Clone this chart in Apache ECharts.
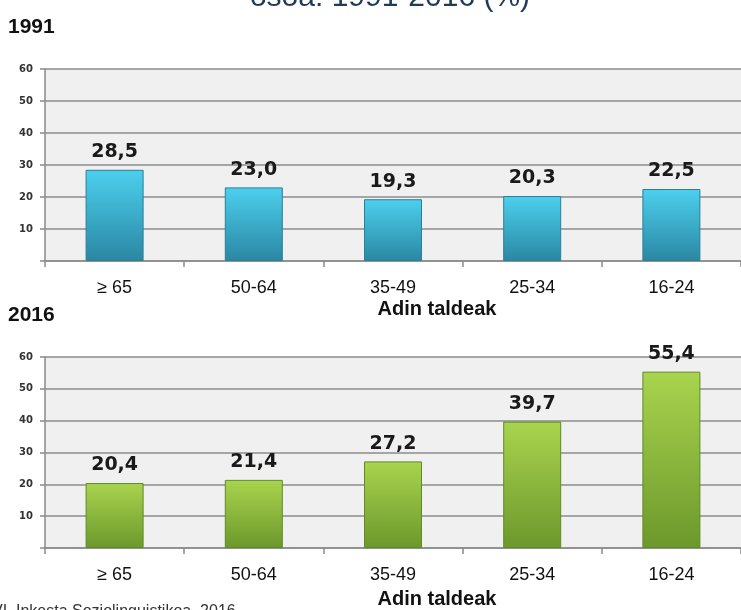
<!DOCTYPE html>
<html><head><meta charset="utf-8">
<script src="https://cdn.jsdelivr.net/npm/echarts@6/dist/echarts.min.js"></script>
<style>html,body{margin:0;padding:0;background:#fff;}#c{width:741px;height:610px;}</style>
</head><body><div id="c"></div>
<script>
const categories = ['≥ 65', '50-64', '35-49', '25-34', '16-24'];
const values1991 = [28.5, 23.0, 19.3, 20.3, 22.5];
const values2016 = [20.4, 21.4, 27.2, 39.7, 55.4];
const yTicks = [0, 10, 20, 30, 40, 50, 60];
const panelTitles = ['1991', '2016'];
const axisName = 'Adin taldeak';
const topTitle = 'osoa: 1991-2016 (%)';
const sourceText = 'VI. Inkesta Soziolinguistikoa, 2016';

const chart = echarts.init(document.getElementById('c'));
const catFont = '"Liberation Sans Narrow","Liberation Sans",Arial,sans-serif';
const grids = [
  {left: 45, top: 69, width: 700, height: 192},
  {left: 45, top: 357, width: 700, height: 191}
];
function xAx(i){
  return {type:'category', gridIndex:i, data:categories,
    axisLine:{lineStyle:{color:'#8a8a8a', width:1.5}},
    axisTick:{show:true, alignWithLabel:false, length:6, lineStyle:{color:'#8a8a8a', width:1.5}},
    axisLabel:{color:'#111', fontFamily:catFont, fontSize:18, margin:18}};
}
function yAx(i){
  return {type:'value', gridIndex:i, min:yTicks[0], max:yTicks[yTicks.length-1], interval:10,
    axisLine:{show:true, lineStyle:{color:'#8a8a8a', width:1.5}},
    axisTick:{show:true, length:5, lineStyle:{color:'#8a8a8a', width:1.5}},
    splitLine:{show:true, lineStyle:{color:'#8c8c8c', width:1.5}},
    axisLabel:{color:'#333', fontSize:10, fontWeight:'bold', fontFamily:'"DejaVu Sans",sans-serif', margin:12,
      formatter: v => v === 0 ? '' : String(v)}};
}
function barSeries(i, data, top, bot, border){
  return {type:'bar', xAxisIndex:i, yAxisIndex:i, data:data, barWidth:58,
    itemStyle:{color:new echarts.graphic.LinearGradient(0,0,0,1,[{offset:0,color:top},{offset:1,color:bot}]),
      borderColor:border, borderWidth:1},
    label:{show:true, position:'top', distance:8, color:'#1a1a1a', fontSize:19, fontWeight:'bold',
      fontFamily:'"DejaVu Sans",sans-serif', formatter: p => p.value.toFixed(1).replace('.', ',')}};
}
chart.setOption({
  animation:false,
  grid: grids.map(g => Object.assign({show:true, backgroundColor:'#f0f0f0', borderWidth:0, containLabel:false}, g)),
  xAxis:[xAx(0), xAx(1)],
  yAxis:[yAx(0), yAx(1)],
  series:[
    barSeries(0, values1991, '#4cd0ee', '#2a87a3', '#2b7f98'),
    barSeries(1, values2016, '#a9d44e', '#6c982c', '#5f8a25')
  ],
  graphic:[
    {type:'text', x:390, y:-17, style:{text:topTitle, fontSize:30, fill:'#1f3b5a', align:'center', fontFamily:'"Liberation Sans",Arial,sans-serif'}},
    {type:'text', left:8, top:17, style:{text:panelTitles[0], fontSize:21, fontWeight:'bold', fill:'#111', fontFamily:catFont}},
    {type:'text', left:8, top:305, style:{text:panelTitles[1], fontSize:21, fontWeight:'bold', fill:'#111', fontFamily:catFont}},
    {type:'text', x:437, y:309, style:{text:axisName, fontSize:20, fontWeight:'bold', fill:'#111', fontFamily:catFont, align:'center', verticalAlign:'middle'}},
    {type:'text', x:437, y:599, style:{text:axisName, fontSize:20, fontWeight:'bold', fill:'#111', fontFamily:catFont, align:'center', verticalAlign:'middle'}},
    {type:'text', x:-8, y:604, style:{text:sourceText, fontSize:16, fill:'#333', fontFamily:'"Liberation Sans",Arial,sans-serif'}}
  ]
});
</script></body></html>
